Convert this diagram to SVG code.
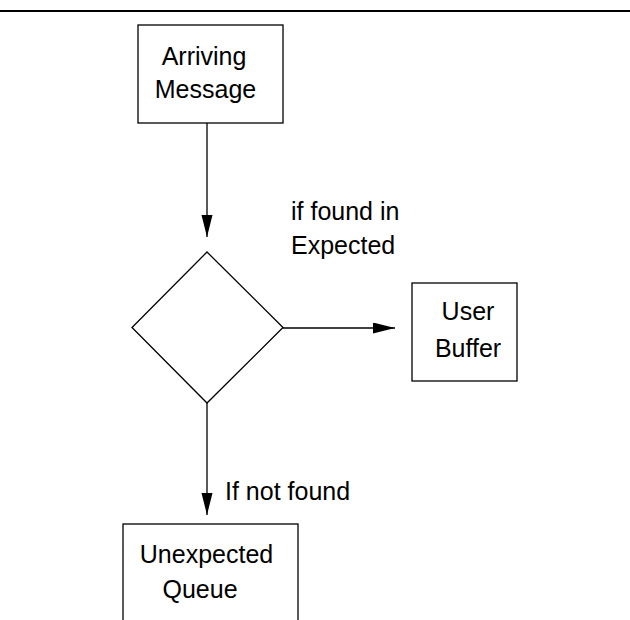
<svg xmlns="http://www.w3.org/2000/svg" width="630" height="620" viewBox="0 0 630 620">
<style>
.box{fill:#fff;stroke:#000;stroke-width:1.3}
.t{font-family:"Liberation Sans",Arial,sans-serif;font-size:25px;fill:#000}
.c{text-anchor:middle}
.ln{stroke:#000;stroke-width:1.3;fill:none}
</style>
<defs>
<marker id="ah" markerUnits="userSpaceOnUse" markerWidth="24" markerHeight="12" refX="22" refY="5.5" orient="auto">
<path d="M0,0 L22,5.5 L0,11 Z" fill="#000"/>
</marker>
</defs>
<line x1="0" y1="11" x2="630" y2="11" stroke="#000" stroke-width="2"/>
<g id="connectors">
<line class="ln" x1="207" y1="123" x2="207" y2="237" marker-end="url(#ah)"/>
<line class="ln" x1="283" y1="328" x2="395" y2="328" marker-end="url(#ah)"/>
<line class="ln" x1="207" y1="403" x2="207" y2="515" marker-end="url(#ah)"/>
<text class="t" x="291" y="220">if found in</text>
<text class="t" x="291" y="254">Expected</text>
<text class="t" x="225" y="500">If not found</text>
</g>
<g id="arriving">
<rect class="box" x="138" y="25" width="145" height="98"/>
<text class="t c" x="204" y="65">Arriving</text>
<text class="t c" x="205.5" y="98">Message</text>
</g>
<g id="decision">
<polygon class="box" points="207,252 283,327.5 207,403 132,327.5"/>
</g>
<g id="userbuffer">
<rect class="box" x="412" y="283" width="105" height="98"/>
<text class="t c" x="468" y="320">User</text>
<text class="t c" x="468" y="357">Buffer</text>
</g>
<g id="unexpected">
<rect class="box" x="123" y="524" width="175" height="120"/>
<text class="t c" x="206.5" y="563">Unexpected</text>
<text class="t c" x="200" y="598">Queue</text>
</g>
</svg>
